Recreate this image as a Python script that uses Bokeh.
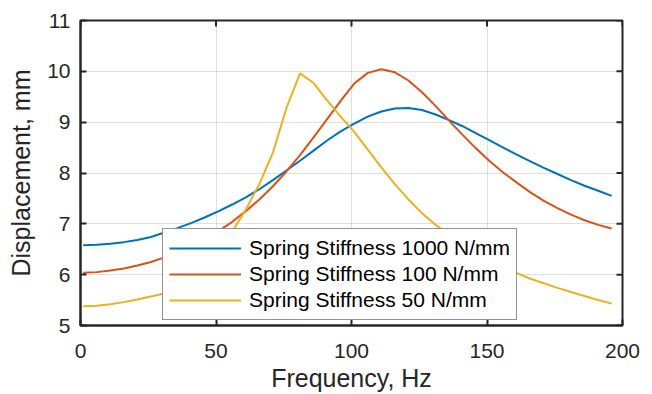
import math
from bokeh.plotting import figure
from bokeh.models import Range1d, Legend, LegendItem, FixedTicker
from bokeh.embed import file_html
from bokeh.resources import INLINE

freq = [1, 6, 11, 16, 21, 26, 31, 36, 41, 46, 51, 56, 61, 66, 71, 76, 81, 86, 91, 96,
        101, 106, 111, 116, 121, 126, 131, 136, 141, 146, 151, 156, 161, 166, 171, 176,
        181, 186, 191, 196]

disp_1000 = [6.58, 6.59, 6.61, 6.64, 6.68, 6.74, 6.83, 6.92, 7.02, 7.13, 7.25, 7.38,
             7.52, 7.68, 7.86, 8.05, 8.24, 8.44, 8.64, 8.82, 8.97, 9.11, 9.21, 9.27,
             9.28, 9.24, 9.15, 9.04, 8.92, 8.78, 8.64, 8.50, 8.36, 8.23, 8.10, 7.98,
             7.86, 7.75, 7.65, 7.55]

disp_100 = [6.04, 6.05, 6.08, 6.12, 6.18, 6.25, 6.34, 6.44, 6.56, 6.70, 6.86, 7.04,
            7.25, 7.48, 7.74, 8.03, 8.35, 8.70, 9.06, 9.42, 9.76, 9.97, 10.04, 9.98,
            9.82, 9.59, 9.32, 9.03, 8.75, 8.48, 8.23, 8.01, 7.81, 7.62, 7.45, 7.31,
            7.18, 7.07, 6.98, 6.91]

disp_50 = [5.38, 5.39, 5.42, 5.46, 5.51, 5.57, 5.63, 5.73, 5.88, 6.10, 6.42, 6.85,
           7.28, 7.78, 8.40, 9.28, 9.96, 9.77, 9.43, 9.11, 8.81, 8.46, 8.11, 7.78,
           7.48, 7.21, 6.98, 6.80, 6.63, 6.47, 6.31, 6.16, 6.03, 5.92, 5.83, 5.74,
           5.66, 5.58, 5.50, 5.43]

series_labels = ["Spring Stiffness 1000 N/mm", "Spring Stiffness 100 N/mm",
                 "Spring Stiffness 50 N/mm"]
x_ticks = [0, 50, 100, 150, 200]
y_ticks = [5, 6, 7, 8, 9, 10, 11]
x_lim = [0, 200]
y_lim = [5, 11]
x_title = "Frequency, Hz"
y_title = "Displacement, mm"

colors = ["#0072BD", "#D95319", "#EDB120"]
FONT = "Liberation Sans"
DARK = "#262626"

p = figure(width=652, height=394, x_range=Range1d(*x_lim), y_range=Range1d(*y_lim),
           output_backend="svg", toolbar_location=None,
           min_border_left=80, min_border_right=30, min_border_top=20,
           min_border_bottom=66, background_fill_color="white",
           border_fill_color="white")

p.outline_line_color = DARK
p.outline_line_width = 2

for ax in [p.xaxis[0], p.yaxis[0]]:
    ax.axis_line_color = DARK
    ax.axis_line_width = 2
    ax.major_tick_in = 6
    ax.major_tick_out = 0
    ax.major_tick_line_color = DARK
    ax.major_tick_line_width = 2
    ax.minor_tick_line_color = None
    ax.major_label_text_font = FONT
    ax.major_label_text_font_size = "21px"
    ax.major_label_text_color = DARK
    ax.axis_label_text_font = FONT
    ax.axis_label_text_font_size = "25px"
    ax.axis_label_text_font_style = "normal"
    ax.axis_label_text_color = DARK

p.xaxis[0].ticker = FixedTicker(ticks=x_ticks)
p.yaxis[0].ticker = FixedTicker(ticks=y_ticks)
p.xaxis[0].axis_label = x_title
p.yaxis[0].axis_label = y_title
p.xaxis[0].major_label_standoff = 18
p.yaxis[0].major_label_standoff = 10
p.xaxis[0].axis_label_standoff = 3
p.yaxis[0].axis_label_standoff = 9

p.xgrid.ticker = FixedTicker(ticks=x_ticks)
p.ygrid.ticker = FixedTicker(ticks=y_ticks)
for g in [p.xgrid[0], p.ygrid[0]]:
    g.grid_line_color = DARK
    g.grid_line_alpha = 0.15
    g.grid_line_width = 1

# inward ticks on the top and right edges of the box
p.ray(x=x_ticks, y=[y_lim[1]] * len(x_ticks), length=6, length_units="screen",
      angle=-math.pi / 2, line_color=DARK, line_width=2)
p.ray(x=[x_lim[1]] * len(y_ticks), y=y_ticks, length=6, length_units="screen",
      angle=math.pi, line_color=DARK, line_width=2)

renderers = []
for ys, c in zip([disp_1000, disp_100, disp_50], colors):
    r = p.line(freq, ys, line_color=c, line_width=2)
    renderers.append(r)

legend = Legend(items=[LegendItem(label=l, renderers=[r]) for l, r in zip(series_labels, renderers)],
                location=(82, 5))
legend.label_text_font = FONT
legend.label_text_font_size = "21px"
legend.label_text_color = "black"
legend.glyph_width = 72
legend.glyph_height = 26
legend.label_height = 26
legend.label_standoff = 8
legend.spacing = 0
legend.padding = 6
legend.margin = 0
legend.border_line_color = DARK
legend.border_line_width = 1
legend.background_fill_color = "white"
legend.background_fill_alpha = 1
p.add_layout(legend, "center")

open("out.html", "w").write(file_html(p, INLINE))
